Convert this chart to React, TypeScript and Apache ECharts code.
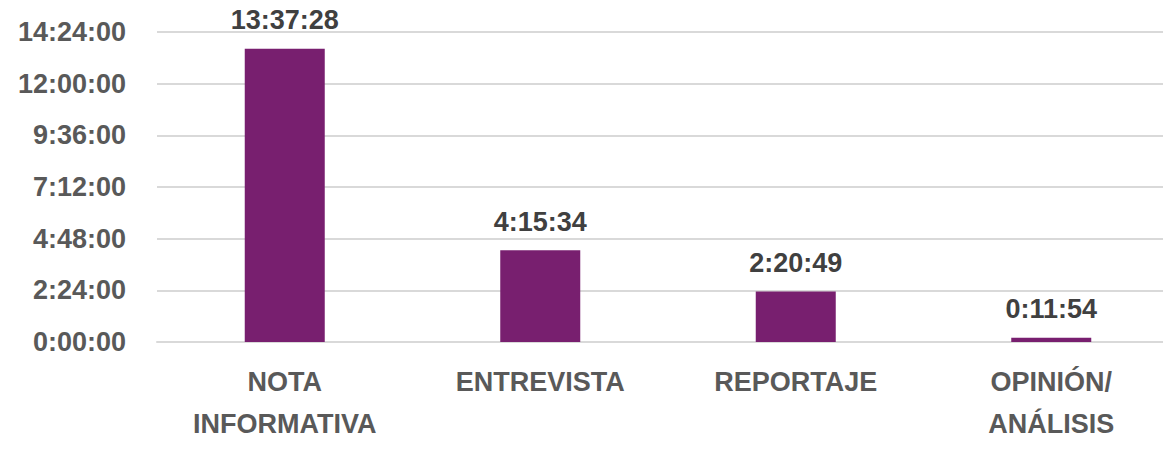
import React, { useEffect, useRef } from "react";
import * as echarts from "echarts";

const categories: string[] = ["NOTA\nINFORMATIVA", "ENTREVISTA", "REPORTAJE", "OPINIÓN/\nANÁLISIS"];
// durations in seconds: 13:37:28, 4:15:34, 2:20:49, 0:11:54
const durations: number[] = [49048, 15334, 8449, 714];
const yMax = 51840; // 14:24:00
const yInterval = 8640; // 2:24:00

function fmt(sec: number): string {
  const h = Math.floor(sec / 3600);
  const m = Math.floor((sec % 3600) / 60);
  const s = Math.round(sec % 60);
  return `${h}:${String(m).padStart(2, "0")}:${String(s).padStart(2, "0")}`;
}

export default function App() {
  const ref = useRef<HTMLDivElement>(null);
  useEffect(() => {
    if (!ref.current) return;
    const chart = echarts.init(ref.current, null, { renderer: "svg" });
    const textColor = "#595959";
    const font = "'Liberation Sans', Arial, sans-serif";
    chart.setOption({
      animation: false,
      backgroundColor: "#ffffff",
      grid: { left: 157, right: 0, top: 32, bottom: 114, containLabel: false },
      xAxis: {
        type: "category",
        data: categories,
        axisTick: { show: false },
        axisLine: { show: true, lineStyle: { color: "#D9D9D9", width: 2 } },
        axisLabel: {
          color: textColor,
          fontFamily: font,
          fontWeight: "bold",
          fontSize: 27,
          lineHeight: 42,
          margin: 19,
          interval: 0,
        },
      },
      yAxis: {
        type: "value",
        min: 0,
        max: yMax,
        interval: yInterval,
        axisLine: { show: false },
        axisTick: { show: false },
        splitLine: { lineStyle: { color: "#D9D9D9", width: 2 } },
        axisLabel: {
          color: textColor,
          fontFamily: font,
          fontWeight: "bold",
          fontSize: 27,
          margin: 31,
          formatter: (v: number) => fmt(v),
        },
      },
      series: [
        {
          type: "bar",
          data: durations,
          barWidth: 80,
          itemStyle: { color: "#781F6F" },
          label: {
            show: true,
            position: "top",
            distance: 15,
            color: "#404040",
            fontFamily: font,
            fontWeight: "bold",
            fontSize: 27,
            formatter: (p: any) => fmt(p.value),
          },
        },
      ],
    });
    return () => chart.dispose();
  }, []);
  return (
    <div style={{ position: "fixed", left: 0, top: 0, width: 1163, height: 456, overflow: "hidden", background: "#fff" }}>
      <div ref={ref} style={{ width: 1179, height: 456 }} />
    </div>
  );
}
